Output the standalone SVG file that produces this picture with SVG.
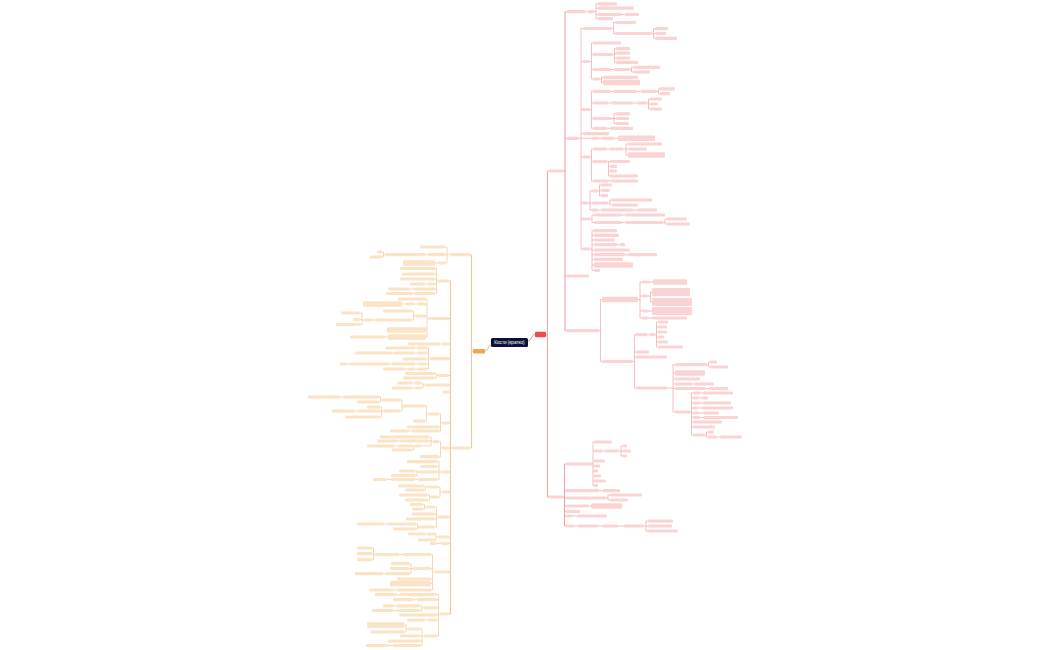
<svg xmlns="http://www.w3.org/2000/svg" width="1050" height="650" viewBox="0 0 1050 650">
<style>
.rn{fill:#fbd3d3}
.ln{fill:#fbe3c6}
.rc{fill:none;stroke:#f4a3a3;stroke-width:0.7}
.lc{fill:none;stroke:#f7c48f;stroke-width:0.7}
.tk{stroke-width:1.1}
.ct{font-family:"Liberation Sans",Arial,sans-serif;font-size:4.6px;fill:#ffffff;text-anchor:middle}
</style>
<rect width="1050" height="650" fill="#ffffff"/>
<g id="connectors">
<path class="rc tk" d="M546 334.5H547.5 M547.5 171V497 M547.5 171H549 M547.5 497H548"/>
<path class="rc tk" d="M563 171H565 M565 11.7V330.7 M565 11.7H567 M565 138.3H567 M565 276H567 M565 330.7H567"/>
<path class="rc" d="M585 11.7H588 M594 11.7H596 M596 3.8V18.7 M596 3.8H598 M596 8.2H598 M596 14.5H598 M596 18.7H598 M622 14.5H625"/>
<path class="rc" d="M579 138.3H581 M581 28.5V249 M581 28.5H583 M581 61.5H583 M581 109.5H582 M581 133.7H583 M581 138.3H592 M581 157H583 M581 203H582 M581 219H582 M581 249H582"/>
<path class="rc" d="M612 28.5H613.5 M613.5 22.5V33.5 M613.5 22.5H615 M613.5 33.5H615 M652 33.5H653.5 M653.5 28.7V38.3 M653.5 28.7H655 M653.5 33.5H655 M653.5 38.3H655"/>
<path class="rc" d="M589 61.5H591.5 M591.5 43V79 M591.5 43H593 M591.5 54.5H593 M591.5 69.5H593 M591.5 79H593 M613 54.5H614.5 M614.5 48.7V62.3 M614.5 48.7H616 M614.5 53.2H616 M614.5 58H616 M614.5 62.3H616 M611 69.5H614 M630 69.5H631.5 M631.5 67.3V72 M631.5 67.3H633 M631.5 72H633 M600 79H601.5 M601.5 77.3V82.5 M601.5 77.3H603 M601.5 82.5H603"/>
<path class="rc" d="M590 109.5H591.5 M591.5 91.3V128.3 M591.5 91.3H593 M591.5 103H593 M591.5 118.5H593 M591.5 128.3H593 M610 91.3H614 M637 91.3H641 M657 91.3H658.5 M658.5 88.8V93.7 M658.5 88.8H660 M658.5 93.7H660 M608 103H611 M633 103H637 M647 103H648.5 M648.5 99V109 M648.5 99H650 M648.5 104H650 M648.5 109H650 M612 118.5H614 M614 113.8V123.5 M614 113.8H616 M614 118.5H616 M614 123.5H616 M607 128.3H610"/>
<path class="rc" d="M598 138.3H602 M614 138.3H618"/>
<path class="rc" d="M590 157H591.5 M591.5 149V181 M591.5 149H593 M591.5 161.5H593 M591.5 181H593 M607 149H610 M623 149H626 M626 144V155 M626 144H628 M626 149H628 M626 155H628 M607 161.5H608.5 M608.5 161.5V176 M608.5 161.5H610 M608.5 166.3H610 M608.5 171H610 M608.5 176H610 M609 181H611"/>
<path class="rc" d="M588 203H590 M590 191V210 M590 191H592 M590 203H592 M590 210H592 M598 191H599.5 M599.5 185V195.7 M599.5 185H601 M599.5 190.5H601 M599.5 195.7H601 M608 203H610 M610 200V205 M610 200H612 M610 205H612 M598 210H601 M633 210H637"/>
<path class="rc" d="M590 219H592 M592 215V222.5 M592 215H594 M592 222.5H594 M622 215H625 M622 222.5H625 M663 222.5H665 M665 219V224 M665 219H667 M665 224H667"/>
<path class="rc" d="M590 249H592 M592 230.7V270.5 M592 230.7H594 M592 235.3H594 M592 240H594 M592 244.7H594 M592 250H594 M592 254.7H594 M592 259.3H594 M592 265H594 M592 270.5H594 M617 244.7H620 M625 254.7H628"/>
<path class="rc" d="M599 330.7H600.5 M600.5 299.5V361.5 M600.5 299.5H602 M600.5 361.5H602"/>
<path class="rc" d="M638 299.5H640 M640 282V318 M640 282H642 M640 296H642 M640 311H642 M640 318H642 M650 282H653 M648 296H650.5 M650.5 292V302 M650.5 292H652 M650.5 302H652 M648 311H652 M648 318H652"/>
<path class="rc" d="M633 361.5H634.5 M634.5 334.7V388 M634.5 334.7H636 M634.5 352H636 M634.5 357H636 M634.5 388H636 M647 334.7H650 M655 334.7H656.5 M656.5 322V347 M656.5 322H658 M656.5 327H658 M656.5 332H658 M656.5 337H658 M656.5 342H658 M656.5 347H658"/>
<path class="rc" d="M667 388H673 M673 364.7V412 M673 364.7H675 M673 373H675 M673 379H675 M673 384H675 M673 388.5H675 M673 412H675 M707 364.7H708.5 M708.5 362V367 M708.5 362H710 M708.5 367H710 M692 384H695 M705 388.5H709"/>
<path class="rc" d="M690 412H691.5 M691.5 393V435 M691.5 393H693 M691.5 398H693 M691.5 403H693 M691.5 408H693 M691.5 413H693 M691.5 417.5H693 M691.5 422H693 M691.5 427H693 M691.5 435H693 M700 393H703 M698 398H702 M700 403H703 M698 408H702 M699 413H703 M700 417.5H703 M705 435H706.5 M706.5 432V437 M706.5 432H708 M706.5 437H708 M717 437H720"/>
<path class="rc tk" d="M563 497H564.5 M564.5 464V526 M564.5 464H566 M564.5 490.7H566 M564.5 498H566 M564.5 506H566 M564.5 511.5H566 M564.5 516H566 M564.5 526H566"/>
<path class="rc" d="M592 464H593 M593 442V485.5 M593 442H594 M593 451H594 M593 461H594 M593 466H594 M593 471H594 M593 476H594 M593 481H594 M593 485.5H594 M602 451H605 M618 451H621 M621 446V456 M621 446H623 M621 451H623 M621 456H623"/>
<path class="rc" d="M599 490.7H603 M606 498H608 M608 495V500 M608 495H610 M608 500H610 M589 506H591 M573 516H577 M574 526H578 M598 526H603 M618 526H624 M644 526H646 M646 521V531 M646 521H648 M646 526H648 M646 531H648"/>
<path class="lc tk" d="M473 351H471.5 M471.5 254.7V448 M471.5 254.7H470 M471.5 448H470"/>
<path class="lc" d="M450 254.7H447 M447 247V263 M447 247H445 M447 254.7H445 M447 263H445 M428 254.7H425 M385 254.7H383.5 M383.5 252V257 M383.5 252H382 M383.5 257H382 M438 263H435"/>
<path class="lc tk" d="M452 448H450.5 M450.5 281V614 M450.5 281H449 M450.5 318.5H449 M450.5 344H449 M450.5 358.7H449 M450.5 375.5H449 M450.5 385H449 M450.5 392H449 M450.5 423H449 M450.5 448H449 M450.5 472H449 M450.5 492H449 M450.5 517H449 M450.5 537H449 M450.5 543.5H449 M450.5 572H449 M450.5 614H449"/>
<path class="lc" d="M438 281H436.5 M436.5 268.5V293.5 M436.5 268.5H435 M436.5 274H435 M436.5 279H435 M436.5 284H435 M436.5 289H435 M436.5 293.5H435 M428 284H425 M413 289H410 M415 293.5H412"/>
<path class="lc" d="M428 318.5H427 M427 299V337 M427 299H426 M427 304H426 M427 316H426 M427 330H426 M427 337H426 M418 304H414 M406 304H402 M415 316H413.5 M413.5 311V320 M413.5 311H412 M413.5 320H412 M375 320H372 M364 320H362 M362 313V324.5 M362 313H360 M362 319.5H360 M362 324.5H360 M388 337H385"/>
<path class="lc" d="M442 344H440"/>
<path class="lc" d="M430 358.7H428.5 M428.5 348V369 M428.5 348H427 M428.5 353H427 M428.5 359H427 M428.5 364H427 M428.5 369H427 M417 348H415 M417 353H415 M394 353H392 M418 364H415 M392 364H389 M350 364H347 M418 369H415 M408 369H405"/>
<path class="lc" d="M438 375.5H436.5 M436.5 373.5V378 M436.5 373.5H435 M436.5 378H435"/>
<path class="lc" d="M425 385H423 M423 383V388 M423 383H421 M423 388H421 M415 383H412 M415 388H412"/>
<path class="lc" d="M442 423H440.5 M440.5 414V431 M440.5 414H439 M440.5 427H439 M440.5 431H439 M412 431H409 M428 414H426.5 M426.5 406V421 M426.5 406H425 M426.5 421H425 M403 406H402 M402 400V411 M402 400H400.5 M402 411H400.5 M382 400H380.5 M380.5 397V402 M380.5 397H379 M380.5 402H379 M343 397H340 M383 411H381.5 M381.5 407V417 M381.5 407H380 M381.5 411H380 M381.5 417H380 M358 411H355"/>
<path class="lc" d="M442 448H440.5 M440.5 441.7V456.7 M440.5 441.7H439 M440.5 456.7H439 M433 441.7H431 M431 437V446 M431 437H429 M431 441H429 M431 446H421 M400 441H397 M415 446H413.5 M413.5 446V450 M413.5 446H412 M413.5 450H412 M398 446H394"/>
<path class="lc" d="M441 472H439 M439 461.7V479.5 M439 461.7H437.5 M439 466.5H437.5 M439 472H437.5 M439 479.5H437.5 M418 472H417 M417 471V475.5 M417 471H415.5 M417 475.5H415.5 M418 479.5H415 M391 479.5H387"/>
<path class="lc" d="M442 492H440 M440 487V497 M440 487H438.5 M440 497H438.5 M427 487H425.5 M425.5 486V490 M425.5 486H424 M425.5 490H424 M431 497H429.5 M429.5 495V500 M429.5 495H428 M429.5 500H428"/>
<path class="lc" d="M438 517H436.5 M436.5 507V527 M436.5 507H435 M436.5 514H435 M436.5 519H435 M436.5 527H435 M426 507H424.5 M424.5 504.5V509 M424.5 504.5H423 M424.5 509H423 M418 527H417.5 M417.5 524V529 M417.5 524H416 M417.5 529H416 M388 524H384"/>
<path class="lc" d="M438 537H436 M436 534V540 M436 534H435 M436 540H435 M427 534H425"/>
<path class="lc" d="M441 543.5H437"/>
<path class="lc" d="M435 572H432.5 M432.5 554.7V590 M432.5 554.7H431 M432.5 568.5H431 M432.5 579H431 M432.5 583.5H431 M432.5 590H431 M403 554.7H399 M375 554.7H373.5 M373.5 548V559.7 M373.5 548H372 M373.5 553.7H372 M373.5 559.7H372 M413 568.5H411 M411 563.7V573.7 M411 563.7H409.5 M411 568.5H409.5 M411 573.7H409.5 M386 573.7H383 M397 590H393"/>
<path class="lc" d="M440 614H438.5 M438.5 594.7V636 M438.5 594.7H437 M438.5 599.7H437 M438.5 607.8H437 M438.5 615H437 M438.5 620H437 M438.5 636H437 M400 594.7H397 M417 599.7H413 M424 607.8H422 M422 605.8V610.5 M422 605.8H420.5 M422 610.5H420.5 M397 605.8H393 M397 610.5H393 M428 620H425 M424 636H422 M422 629V645.5 M422 629H420.5 M422 636H420.5 M422 641H420.5 M422 645.5H420.5 M408 629H406 M406 625V632 M406 625H404.5 M406 632H404.5 M393 645.5H389"/>
<path fill="none" stroke="#f28a8a" stroke-width="1" d="M528 341C531.5 341 531.5 334.5 535 334.5"/>
<path fill="none" stroke="#f5b36f" stroke-width="1" d="M491 345C488 345 488.5 351 485 351"/>
</g>
<g id="nodes">
<g id="center"><rect x="491" y="338" width="37" height="9" rx="1.5" fill="#0c1236"/><text class="ct" x="509.5" y="344.2">Кости (кратко)</text></g>
<g id="root-right"><rect x="535" y="331.8" width="11" height="5.4" rx="1" fill="#f04a4a"/></g>
<g id="root-left"><rect x="473" y="349" width="12" height="4.4" rx="1" fill="#f6a24e"/></g>
<g id="r1"><rect class="rn" x="549" y="169.4" width="14" height="3.2" rx="1"/></g>
<g id="r2"><rect class="rn" x="548" y="495.4" width="15" height="3.2" rx="1"/></g>
<g id="r3"><rect class="rn" x="567" y="10.1" width="18" height="3.2" rx="1"/></g>
<g id="r4"><rect class="rn" x="588" y="10.1" width="6" height="3.2" rx="1"/></g>
<g id="r5"><rect class="rn" x="598" y="2.2" width="19" height="3.2" rx="1"/></g>
<g id="r6"><rect class="rn" x="598" y="6.6" width="36" height="3.2" rx="1"/></g>
<g id="r7"><rect class="rn" x="598" y="12.9" width="24" height="3.2" rx="1"/></g>
<g id="r8"><rect class="rn" x="625" y="12.9" width="14" height="3.2" rx="1"/></g>
<g id="r9"><rect class="rn" x="598" y="17.1" width="15" height="3.2" rx="1"/></g>
<g id="r10"><rect class="rn" x="567" y="136.7" width="12" height="3.2" rx="1"/></g>
<g id="r11"><rect class="rn" x="567" y="274.4" width="22" height="3.2" rx="1"/></g>
<g id="r12"><rect class="rn" x="567" y="329.1" width="32" height="3.2" rx="1"/></g>
<g id="r13"><rect class="rn" x="583" y="26.9" width="29" height="3.2" rx="1"/></g>
<g id="r14"><rect class="rn" x="615" y="20.9" width="21" height="3.2" rx="1"/></g>
<g id="r15"><rect class="rn" x="615" y="31.9" width="37" height="3.2" rx="1"/></g>
<g id="r16"><rect class="rn" x="655" y="27.1" width="13" height="3.2" rx="1"/></g>
<g id="r17"><rect class="rn" x="655" y="31.9" width="11" height="3.2" rx="1"/></g>
<g id="r18"><rect class="rn" x="655" y="36.7" width="22" height="3.2" rx="1"/></g>
<g id="r19"><rect class="rn" x="583" y="59.9" width="6" height="3.2" rx="1"/></g>
<g id="r20"><rect class="rn" x="593" y="41.4" width="28" height="3.2" rx="1"/></g>
<g id="r21"><rect class="rn" x="593" y="52.9" width="20" height="3.2" rx="1"/></g>
<g id="r22"><rect class="rn" x="616" y="47.1" width="14" height="3.2" rx="1"/></g>
<g id="r23"><rect class="rn" x="616" y="51.6" width="14" height="3.2" rx="1"/></g>
<g id="r24"><rect class="rn" x="616" y="56.4" width="14" height="3.2" rx="1"/></g>
<g id="r25"><rect class="rn" x="616" y="60.7" width="22" height="3.2" rx="1"/></g>
<g id="r26"><rect class="rn" x="593" y="67.9" width="18" height="3.2" rx="1"/></g>
<g id="r27"><rect class="rn" x="614" y="67.9" width="16" height="3.2" rx="1"/></g>
<g id="r28"><rect class="rn" x="633" y="65.7" width="27" height="3.2" rx="1"/></g>
<g id="r29"><rect class="rn" x="633" y="70.4" width="17" height="3.2" rx="1"/></g>
<g id="r30"><rect class="rn" x="593" y="77.4" width="7" height="3.2" rx="1"/></g>
<g id="r31"><rect class="rn" x="603" y="75.7" width="35" height="3.2" rx="1"/></g>
<g id="r32"><rect class="rn" x="603" y="79.7" width="37" height="5.6" rx="1"/></g>
<g id="r33"><rect class="rn" x="582" y="107.9" width="8" height="3.2" rx="1"/></g>
<g id="r34"><rect class="rn" x="593" y="89.7" width="17" height="3.2" rx="1"/></g>
<g id="r35"><rect class="rn" x="614" y="89.7" width="23" height="3.2" rx="1"/></g>
<g id="r36"><rect class="rn" x="641" y="89.7" width="16" height="3.2" rx="1"/></g>
<g id="r37"><rect class="rn" x="660" y="87.2" width="15" height="3.2" rx="1"/></g>
<g id="r38"><rect class="rn" x="660" y="92.1" width="10" height="3.2" rx="1"/></g>
<g id="r39"><rect class="rn" x="593" y="101.4" width="15" height="3.2" rx="1"/></g>
<g id="r40"><rect class="rn" x="611" y="101.4" width="22" height="3.2" rx="1"/></g>
<g id="r41"><rect class="rn" x="637" y="101.4" width="10" height="3.2" rx="1"/></g>
<g id="r42"><rect class="rn" x="650" y="97.4" width="12" height="3.2" rx="1"/></g>
<g id="r43"><rect class="rn" x="650" y="102.4" width="8" height="3.2" rx="1"/></g>
<g id="r44"><rect class="rn" x="650" y="107.4" width="12" height="3.2" rx="1"/></g>
<g id="r45"><rect class="rn" x="593" y="116.9" width="19" height="3.2" rx="1"/></g>
<g id="r46"><rect class="rn" x="616" y="112.2" width="14" height="3.2" rx="1"/></g>
<g id="r47"><rect class="rn" x="616" y="116.9" width="13" height="3.2" rx="1"/></g>
<g id="r48"><rect class="rn" x="616" y="121.9" width="13" height="3.2" rx="1"/></g>
<g id="r49"><rect class="rn" x="593" y="126.7" width="14" height="3.2" rx="1"/></g>
<g id="r50"><rect class="rn" x="610" y="126.7" width="23" height="3.2" rx="1"/></g>
<g id="r51"><rect class="rn" x="583" y="132.1" width="26" height="3.2" rx="1"/></g>
<g id="r52"><rect class="rn" x="592" y="136.7" width="6" height="3.2" rx="1"/></g>
<g id="r53"><rect class="rn" x="602" y="136.7" width="12" height="3.2" rx="1"/></g>
<g id="r54"><rect class="rn" x="618" y="135.5" width="37" height="5.6" rx="1"/></g>
<g id="r55"><rect class="rn" x="583" y="155.4" width="7" height="3.2" rx="1"/></g>
<g id="r56"><rect class="rn" x="593" y="147.4" width="14" height="3.2" rx="1"/></g>
<g id="r57"><rect class="rn" x="610" y="147.4" width="13" height="3.2" rx="1"/></g>
<g id="r58"><rect class="rn" x="628" y="142.4" width="34" height="3.2" rx="1"/></g>
<g id="r59"><rect class="rn" x="628" y="147.4" width="19" height="3.2" rx="1"/></g>
<g id="r60"><rect class="rn" x="628" y="152.2" width="37" height="5.6" rx="1"/></g>
<g id="r61"><rect class="rn" x="593" y="159.9" width="14" height="3.2" rx="1"/></g>
<g id="r62"><rect class="rn" x="610" y="159.9" width="20" height="3.2" rx="1"/></g>
<g id="r63"><rect class="rn" x="610" y="164.7" width="7" height="3.2" rx="1"/></g>
<g id="r64"><rect class="rn" x="610" y="169.4" width="7" height="3.2" rx="1"/></g>
<g id="r65"><rect class="rn" x="610" y="174.4" width="28" height="3.2" rx="1"/></g>
<g id="r66"><rect class="rn" x="593" y="179.4" width="16" height="3.2" rx="1"/></g>
<g id="r67"><rect class="rn" x="611" y="179.4" width="27" height="3.2" rx="1"/></g>
<g id="r68"><rect class="rn" x="582" y="201.4" width="6" height="3.2" rx="1"/></g>
<g id="r69"><rect class="rn" x="592" y="189.4" width="6" height="3.2" rx="1"/></g>
<g id="r70"><rect class="rn" x="601" y="183.4" width="11" height="3.2" rx="1"/></g>
<g id="r71"><rect class="rn" x="601" y="188.9" width="9" height="3.2" rx="1"/></g>
<g id="r72"><rect class="rn" x="601" y="194.1" width="7" height="3.2" rx="1"/></g>
<g id="r73"><rect class="rn" x="592" y="201.4" width="16" height="3.2" rx="1"/></g>
<g id="r74"><rect class="rn" x="612" y="198.4" width="40" height="3.2" rx="1"/></g>
<g id="r75"><rect class="rn" x="612" y="203.4" width="26" height="3.2" rx="1"/></g>
<g id="r76"><rect class="rn" x="592" y="208.4" width="6" height="3.2" rx="1"/></g>
<g id="r77"><rect class="rn" x="601" y="208.4" width="32" height="3.2" rx="1"/></g>
<g id="r78"><rect class="rn" x="637" y="208.4" width="20" height="3.2" rx="1"/></g>
<g id="r79"><rect class="rn" x="582" y="217.4" width="8" height="3.2" rx="1"/></g>
<g id="r80"><rect class="rn" x="594" y="213.4" width="28" height="3.2" rx="1"/></g>
<g id="r81"><rect class="rn" x="625" y="213.4" width="40" height="3.2" rx="1"/></g>
<g id="r82"><rect class="rn" x="594" y="220.9" width="28" height="3.2" rx="1"/></g>
<g id="r83"><rect class="rn" x="625" y="220.9" width="38" height="3.2" rx="1"/></g>
<g id="r84"><rect class="rn" x="667" y="217.4" width="20" height="3.2" rx="1"/></g>
<g id="r85"><rect class="rn" x="667" y="222.4" width="23" height="3.2" rx="1"/></g>
<g id="r86"><rect class="rn" x="582" y="247.4" width="8" height="3.2" rx="1"/></g>
<g id="r87"><rect class="rn" x="594" y="229.1" width="23" height="3.2" rx="1"/></g>
<g id="r88"><rect class="rn" x="594" y="233.7" width="25" height="3.2" rx="1"/></g>
<g id="r89"><rect class="rn" x="594" y="238.4" width="21" height="3.2" rx="1"/></g>
<g id="r90"><rect class="rn" x="594" y="243.1" width="23" height="3.2" rx="1"/></g>
<g id="r91"><rect class="rn" x="620" y="243.1" width="5" height="3.2" rx="1"/></g>
<g id="r92"><rect class="rn" x="594" y="248.4" width="36" height="3.2" rx="1"/></g>
<g id="r93"><rect class="rn" x="594" y="253.1" width="31" height="3.2" rx="1"/></g>
<g id="r94"><rect class="rn" x="628" y="253.1" width="29" height="3.2" rx="1"/></g>
<g id="r95"><rect class="rn" x="594" y="257.7" width="29" height="3.2" rx="1"/></g>
<g id="r96"><rect class="rn" x="594" y="262.2" width="39" height="5.6" rx="1"/></g>
<g id="r97"><rect class="rn" x="594" y="268.9" width="6" height="3.2" rx="1"/></g>
<g id="r98"><rect class="rn" x="602" y="296.7" width="36" height="5.6" rx="1"/></g>
<g id="r99"><rect class="rn" x="642" y="280.4" width="8" height="3.2" rx="1"/></g>
<g id="r100"><rect class="rn" x="653" y="279.2" width="34" height="5.6" rx="1"/></g>
<g id="r101"><rect class="rn" x="642" y="294.4" width="6" height="3.2" rx="1"/></g>
<g id="r102"><rect class="rn" x="652" y="288" width="38" height="8" rx="1"/></g>
<g id="r103"><rect class="rn" x="652" y="298" width="40" height="8" rx="1"/></g>
<g id="r104"><rect class="rn" x="642" y="309.4" width="6" height="3.2" rx="1"/></g>
<g id="r105"><rect class="rn" x="652" y="307" width="40" height="8" rx="1"/></g>
<g id="r106"><rect class="rn" x="642" y="316.4" width="6" height="3.2" rx="1"/></g>
<g id="r107"><rect class="rn" x="652" y="316.4" width="35" height="3.2" rx="1"/></g>
<g id="r108"><rect class="rn" x="602" y="359.9" width="31" height="3.2" rx="1"/></g>
<g id="r109"><rect class="rn" x="636" y="333.1" width="11" height="3.2" rx="1"/></g>
<g id="r110"><rect class="rn" x="650" y="333.1" width="5" height="3.2" rx="1"/></g>
<g id="r111"><rect class="rn" x="658" y="320.4" width="10" height="3.2" rx="1"/></g>
<g id="r112"><rect class="rn" x="658" y="325.4" width="9" height="3.2" rx="1"/></g>
<g id="r113"><rect class="rn" x="658" y="330.4" width="9" height="3.2" rx="1"/></g>
<g id="r114"><rect class="rn" x="658" y="335.4" width="6" height="3.2" rx="1"/></g>
<g id="r115"><rect class="rn" x="658" y="340.4" width="10" height="3.2" rx="1"/></g>
<g id="r116"><rect class="rn" x="658" y="345.4" width="25" height="3.2" rx="1"/></g>
<g id="r117"><rect class="rn" x="636" y="350.4" width="13" height="3.2" rx="1"/></g>
<g id="r118"><rect class="rn" x="636" y="355.4" width="31" height="3.2" rx="1"/></g>
<g id="r119"><rect class="rn" x="636" y="386.4" width="31" height="3.2" rx="1"/></g>
<g id="r120"><rect class="rn" x="675" y="363.1" width="32" height="3.2" rx="1"/></g>
<g id="r121"><rect class="rn" x="710" y="360.4" width="7" height="3.2" rx="1"/></g>
<g id="r122"><rect class="rn" x="710" y="365.4" width="18" height="3.2" rx="1"/></g>
<g id="r123"><rect class="rn" x="675" y="370.2" width="30" height="5.6" rx="1"/></g>
<g id="r124"><rect class="rn" x="675" y="377.4" width="25" height="3.2" rx="1"/></g>
<g id="r125"><rect class="rn" x="675" y="382.4" width="17" height="3.2" rx="1"/></g>
<g id="r126"><rect class="rn" x="695" y="382.4" width="19" height="3.2" rx="1"/></g>
<g id="r127"><rect class="rn" x="675" y="386.9" width="30" height="3.2" rx="1"/></g>
<g id="r128"><rect class="rn" x="709" y="386.9" width="19" height="3.2" rx="1"/></g>
<g id="r129"><rect class="rn" x="675" y="410.4" width="15" height="3.2" rx="1"/></g>
<g id="r130"><rect class="rn" x="693" y="391.4" width="7" height="3.2" rx="1"/></g>
<g id="r131"><rect class="rn" x="703" y="391.4" width="30" height="3.2" rx="1"/></g>
<g id="r132"><rect class="rn" x="693" y="396.4" width="5" height="3.2" rx="1"/></g>
<g id="r133"><rect class="rn" x="702" y="396.4" width="6" height="3.2" rx="1"/></g>
<g id="r134"><rect class="rn" x="693" y="401.4" width="7" height="3.2" rx="1"/></g>
<g id="r135"><rect class="rn" x="703" y="401.4" width="28" height="3.2" rx="1"/></g>
<g id="r136"><rect class="rn" x="693" y="406.4" width="5" height="3.2" rx="1"/></g>
<g id="r137"><rect class="rn" x="702" y="406.4" width="31" height="3.2" rx="1"/></g>
<g id="r138"><rect class="rn" x="693" y="411.4" width="6" height="3.2" rx="1"/></g>
<g id="r139"><rect class="rn" x="703" y="411.4" width="16" height="3.2" rx="1"/></g>
<g id="r140"><rect class="rn" x="693" y="415.9" width="7" height="3.2" rx="1"/></g>
<g id="r141"><rect class="rn" x="703" y="415.9" width="35" height="3.2" rx="1"/></g>
<g id="r142"><rect class="rn" x="693" y="420.4" width="29" height="3.2" rx="1"/></g>
<g id="r143"><rect class="rn" x="693" y="425.4" width="22" height="3.2" rx="1"/></g>
<g id="r144"><rect class="rn" x="693" y="433.4" width="12" height="3.2" rx="1"/></g>
<g id="r145"><rect class="rn" x="708" y="430.4" width="6" height="3.2" rx="1"/></g>
<g id="r146"><rect class="rn" x="708" y="435.4" width="9" height="3.2" rx="1"/></g>
<g id="r147"><rect class="rn" x="720" y="435.4" width="22" height="3.2" rx="1"/></g>
<g id="r148"><rect class="rn" x="566" y="462.4" width="26" height="3.2" rx="1"/></g>
<g id="r149"><rect class="rn" x="594" y="440.4" width="18" height="3.2" rx="1"/></g>
<g id="r150"><rect class="rn" x="594" y="449.4" width="8" height="3.2" rx="1"/></g>
<g id="r151"><rect class="rn" x="605" y="449.4" width="13" height="3.2" rx="1"/></g>
<g id="r152"><rect class="rn" x="623" y="444.4" width="4" height="3.2" rx="1"/></g>
<g id="r153"><rect class="rn" x="623" y="449.4" width="8" height="3.2" rx="1"/></g>
<g id="r154"><rect class="rn" x="623" y="454.4" width="4" height="3.2" rx="1"/></g>
<g id="r155"><rect class="rn" x="594" y="459.4" width="11" height="3.2" rx="1"/></g>
<g id="r156"><rect class="rn" x="594" y="464.4" width="6" height="3.2" rx="1"/></g>
<g id="r157"><rect class="rn" x="594" y="469.4" width="4" height="3.2" rx="1"/></g>
<g id="r158"><rect class="rn" x="594" y="474.4" width="7" height="3.2" rx="1"/></g>
<g id="r159"><rect class="rn" x="594" y="479.4" width="12" height="3.2" rx="1"/></g>
<g id="r160"><rect class="rn" x="594" y="483.9" width="4" height="3.2" rx="1"/></g>
<g id="r161"><rect class="rn" x="566" y="489.1" width="33" height="3.2" rx="1"/></g>
<g id="r162"><rect class="rn" x="603" y="489.1" width="17" height="3.2" rx="1"/></g>
<g id="r163"><rect class="rn" x="566" y="496.4" width="40" height="3.2" rx="1"/></g>
<g id="r164"><rect class="rn" x="610" y="493.4" width="32" height="3.2" rx="1"/></g>
<g id="r165"><rect class="rn" x="610" y="498.4" width="18" height="3.2" rx="1"/></g>
<g id="r166"><rect class="rn" x="566" y="504.4" width="23" height="3.2" rx="1"/></g>
<g id="r167"><rect class="rn" x="591" y="503.2" width="31" height="5.6" rx="1"/></g>
<g id="r168"><rect class="rn" x="566" y="509.9" width="14" height="3.2" rx="1"/></g>
<g id="r169"><rect class="rn" x="566" y="514.4" width="7" height="3.2" rx="1"/></g>
<g id="r170"><rect class="rn" x="577" y="514.4" width="30" height="3.2" rx="1"/></g>
<g id="r171"><rect class="rn" x="566" y="524.4" width="8" height="3.2" rx="1"/></g>
<g id="r172"><rect class="rn" x="578" y="524.4" width="20" height="3.2" rx="1"/></g>
<g id="r173"><rect class="rn" x="603" y="524.4" width="15" height="3.2" rx="1"/></g>
<g id="r174"><rect class="rn" x="624" y="524.4" width="20" height="3.2" rx="1"/></g>
<g id="r175"><rect class="rn" x="648" y="519.4" width="25" height="3.2" rx="1"/></g>
<g id="r176"><rect class="rn" x="648" y="524.4" width="24" height="3.2" rx="1"/></g>
<g id="r177"><rect class="rn" x="648" y="529.4" width="30" height="3.2" rx="1"/></g>
<g id="l1"><rect class="ln" x="450" y="253.1" width="20" height="3.2" rx="1"/></g>
<g id="l2"><rect class="ln" x="420" y="245.4" width="25" height="3.2" rx="1"/></g>
<g id="l3"><rect class="ln" x="428" y="253.1" width="17" height="3.2" rx="1"/></g>
<g id="l4"><rect class="ln" x="385" y="253.1" width="40" height="3.2" rx="1"/></g>
<g id="l5"><rect class="ln" x="377" y="250.4" width="5" height="3.2" rx="1"/></g>
<g id="l6"><rect class="ln" x="370" y="255.4" width="12" height="3.2" rx="1"/></g>
<g id="l7"><rect class="ln" x="438" y="261.4" width="7" height="3.2" rx="1"/></g>
<g id="l8"><rect class="ln" x="403" y="260.2" width="32" height="5.6" rx="1"/></g>
<g id="l9"><rect class="ln" x="452" y="446.4" width="18" height="3.2" rx="1"/></g>
<g id="l10"><rect class="ln" x="438" y="279.4" width="11" height="3.2" rx="1"/></g>
<g id="l11"><rect class="ln" x="400" y="266.9" width="35" height="3.2" rx="1"/></g>
<g id="l12"><rect class="ln" x="402" y="272.4" width="33" height="3.2" rx="1"/></g>
<g id="l13"><rect class="ln" x="400" y="277.4" width="35" height="3.2" rx="1"/></g>
<g id="l14"><rect class="ln" x="428" y="282.4" width="7" height="3.2" rx="1"/></g>
<g id="l15"><rect class="ln" x="410" y="282.4" width="15" height="3.2" rx="1"/></g>
<g id="l16"><rect class="ln" x="413" y="287.4" width="22" height="3.2" rx="1"/></g>
<g id="l17"><rect class="ln" x="388" y="287.4" width="22" height="3.2" rx="1"/></g>
<g id="l18"><rect class="ln" x="415" y="291.9" width="20" height="3.2" rx="1"/></g>
<g id="l19"><rect class="ln" x="386" y="291.9" width="26" height="3.2" rx="1"/></g>
<g id="l20"><rect class="ln" x="428" y="316.9" width="21" height="3.2" rx="1"/></g>
<g id="l21"><rect class="ln" x="398" y="297.4" width="28" height="3.2" rx="1"/></g>
<g id="l22"><rect class="ln" x="418" y="302.4" width="8" height="3.2" rx="1"/></g>
<g id="l23"><rect class="ln" x="406" y="302.4" width="8" height="3.2" rx="1"/></g>
<g id="l24"><rect class="ln" x="363" y="301.2" width="39" height="5.6" rx="1"/></g>
<g id="l25"><rect class="ln" x="415" y="314.4" width="11" height="3.2" rx="1"/></g>
<g id="l26"><rect class="ln" x="383" y="309.4" width="29" height="3.2" rx="1"/></g>
<g id="l27"><rect class="ln" x="375" y="318.4" width="37" height="3.2" rx="1"/></g>
<g id="l28"><rect class="ln" x="364" y="318.4" width="8" height="3.2" rx="1"/></g>
<g id="l29"><rect class="ln" x="341" y="311.4" width="19" height="3.2" rx="1"/></g>
<g id="l30"><rect class="ln" x="353" y="317.9" width="7" height="3.2" rx="1"/></g>
<g id="l31"><rect class="ln" x="336" y="322.9" width="24" height="3.2" rx="1"/></g>
<g id="l32"><rect class="ln" x="387" y="327.2" width="39" height="5.6" rx="1"/></g>
<g id="l33"><rect class="ln" x="388" y="334.2" width="38" height="5.6" rx="1"/></g>
<g id="l34"><rect class="ln" x="350" y="335.4" width="35" height="3.2" rx="1"/></g>
<g id="l35"><rect class="ln" x="442" y="342.4" width="7" height="3.2" rx="1"/></g>
<g id="l36"><rect class="ln" x="408" y="342.4" width="32" height="3.2" rx="1"/></g>
<g id="l37"><rect class="ln" x="430" y="357.1" width="19" height="3.2" rx="1"/></g>
<g id="l38"><rect class="ln" x="417" y="346.4" width="10" height="3.2" rx="1"/></g>
<g id="l39"><rect class="ln" x="386" y="346.4" width="29" height="3.2" rx="1"/></g>
<g id="l40"><rect class="ln" x="417" y="351.4" width="10" height="3.2" rx="1"/></g>
<g id="l41"><rect class="ln" x="394" y="351.4" width="21" height="3.2" rx="1"/></g>
<g id="l42"><rect class="ln" x="355" y="351.4" width="37" height="3.2" rx="1"/></g>
<g id="l43"><rect class="ln" x="403" y="357.4" width="24" height="3.2" rx="1"/></g>
<g id="l44"><rect class="ln" x="418" y="362.4" width="9" height="3.2" rx="1"/></g>
<g id="l45"><rect class="ln" x="392" y="362.4" width="23" height="3.2" rx="1"/></g>
<g id="l46"><rect class="ln" x="350" y="362.4" width="39" height="3.2" rx="1"/></g>
<g id="l47"><rect class="ln" x="340" y="362.4" width="7" height="3.2" rx="1"/></g>
<g id="l48"><rect class="ln" x="418" y="367.4" width="9" height="3.2" rx="1"/></g>
<g id="l49"><rect class="ln" x="408" y="367.4" width="7" height="3.2" rx="1"/></g>
<g id="l50"><rect class="ln" x="383" y="367.4" width="22" height="3.2" rx="1"/></g>
<g id="l51"><rect class="ln" x="438" y="373.9" width="11" height="3.2" rx="1"/></g>
<g id="l52"><rect class="ln" x="405" y="371.9" width="30" height="3.2" rx="1"/></g>
<g id="l53"><rect class="ln" x="403" y="376.4" width="32" height="3.2" rx="1"/></g>
<g id="l54"><rect class="ln" x="425" y="383.4" width="24" height="3.2" rx="1"/></g>
<g id="l55"><rect class="ln" x="415" y="381.4" width="6" height="3.2" rx="1"/></g>
<g id="l56"><rect class="ln" x="397" y="381.4" width="15" height="3.2" rx="1"/></g>
<g id="l57"><rect class="ln" x="415" y="386.4" width="6" height="3.2" rx="1"/></g>
<g id="l58"><rect class="ln" x="392" y="386.4" width="20" height="3.2" rx="1"/></g>
<g id="l59"><rect class="ln" x="442" y="390.4" width="7" height="3.2" rx="1"/></g>
<g id="l60"><rect class="ln" x="442" y="421.4" width="7" height="3.2" rx="1"/></g>
<g id="l61"><rect class="ln" x="428" y="412.4" width="11" height="3.2" rx="1"/></g>
<g id="l62"><rect class="ln" x="407" y="425.4" width="32" height="3.2" rx="1"/></g>
<g id="l63"><rect class="ln" x="412" y="429.4" width="27" height="3.2" rx="1"/></g>
<g id="l64"><rect class="ln" x="390" y="429.4" width="19" height="3.2" rx="1"/></g>
<g id="l65"><rect class="ln" x="403" y="404.4" width="22" height="3.2" rx="1"/></g>
<g id="l66"><rect class="ln" x="413" y="419.4" width="12" height="3.2" rx="1"/></g>
<g id="l67"><rect class="ln" x="382" y="398.4" width="18.5" height="3.2" rx="1"/></g>
<g id="l68"><rect class="ln" x="383" y="409.4" width="17.5" height="3.2" rx="1"/></g>
<g id="l69"><rect class="ln" x="343" y="395.4" width="36" height="3.2" rx="1"/></g>
<g id="l70"><rect class="ln" x="308" y="395.4" width="32" height="3.2" rx="1"/></g>
<g id="l71"><rect class="ln" x="357" y="400.4" width="22" height="3.2" rx="1"/></g>
<g id="l72"><rect class="ln" x="367" y="405.4" width="13" height="3.2" rx="1"/></g>
<g id="l73"><rect class="ln" x="358" y="409.4" width="22" height="3.2" rx="1"/></g>
<g id="l74"><rect class="ln" x="332" y="409.4" width="23" height="3.2" rx="1"/></g>
<g id="l75"><rect class="ln" x="345" y="415.4" width="35" height="3.2" rx="1"/></g>
<g id="l76"><rect class="ln" x="442" y="446.4" width="7" height="3.2" rx="1"/></g>
<g id="l77"><rect class="ln" x="433" y="440.1" width="6" height="3.2" rx="1"/></g>
<g id="l78"><rect class="ln" x="420" y="455.1" width="19" height="3.2" rx="1"/></g>
<g id="l79"><rect class="ln" x="380" y="435.4" width="49" height="3.2" rx="1"/></g>
<g id="l80"><rect class="ln" x="400" y="439.4" width="29" height="3.2" rx="1"/></g>
<g id="l81"><rect class="ln" x="377" y="439.4" width="20" height="3.2" rx="1"/></g>
<g id="l82"><rect class="ln" x="415" y="444.4" width="6" height="3.2" rx="1"/></g>
<g id="l83"><rect class="ln" x="398" y="444.4" width="14" height="3.2" rx="1"/></g>
<g id="l84"><rect class="ln" x="367" y="444.4" width="27" height="3.2" rx="1"/></g>
<g id="l85"><rect class="ln" x="392" y="448.4" width="20" height="3.2" rx="1"/></g>
<g id="l86"><rect class="ln" x="441" y="470.4" width="8" height="3.2" rx="1"/></g>
<g id="l87"><rect class="ln" x="407" y="460.1" width="30.5" height="3.2" rx="1"/></g>
<g id="l88"><rect class="ln" x="420" y="464.9" width="17.5" height="3.2" rx="1"/></g>
<g id="l89"><rect class="ln" x="418" y="470.4" width="19.5" height="3.2" rx="1"/></g>
<g id="l90"><rect class="ln" x="418" y="477.9" width="19.5" height="3.2" rx="1"/></g>
<g id="l91"><rect class="ln" x="399" y="469.4" width="16.5" height="3.2" rx="1"/></g>
<g id="l92"><rect class="ln" x="391" y="473.9" width="24.5" height="3.2" rx="1"/></g>
<g id="l93"><rect class="ln" x="391" y="477.9" width="24" height="3.2" rx="1"/></g>
<g id="l94"><rect class="ln" x="373" y="477.9" width="14" height="3.2" rx="1"/></g>
<g id="l95"><rect class="ln" x="442" y="490.4" width="7" height="3.2" rx="1"/></g>
<g id="l96"><rect class="ln" x="427" y="485.4" width="11.5" height="3.2" rx="1"/></g>
<g id="l97"><rect class="ln" x="431" y="495.4" width="7.5" height="3.2" rx="1"/></g>
<g id="l98"><rect class="ln" x="398" y="484.4" width="26" height="3.2" rx="1"/></g>
<g id="l99"><rect class="ln" x="405" y="488.4" width="19" height="3.2" rx="1"/></g>
<g id="l100"><rect class="ln" x="399" y="493.4" width="29" height="3.2" rx="1"/></g>
<g id="l101"><rect class="ln" x="405" y="498.4" width="23" height="3.2" rx="1"/></g>
<g id="l102"><rect class="ln" x="438" y="515.4" width="11" height="3.2" rx="1"/></g>
<g id="l103"><rect class="ln" x="426" y="505.4" width="9" height="3.2" rx="1"/></g>
<g id="l104"><rect class="ln" x="412" y="512.4" width="23" height="3.2" rx="1"/></g>
<g id="l105"><rect class="ln" x="406" y="517.4" width="29" height="3.2" rx="1"/></g>
<g id="l106"><rect class="ln" x="418" y="525.4" width="17" height="3.2" rx="1"/></g>
<g id="l107"><rect class="ln" x="410" y="502.9" width="13" height="3.2" rx="1"/></g>
<g id="l108"><rect class="ln" x="412" y="507.4" width="11" height="3.2" rx="1"/></g>
<g id="l109"><rect class="ln" x="388" y="522.4" width="28" height="3.2" rx="1"/></g>
<g id="l110"><rect class="ln" x="357" y="522.4" width="27" height="3.2" rx="1"/></g>
<g id="l111"><rect class="ln" x="393" y="527.4" width="23" height="3.2" rx="1"/></g>
<g id="l112"><rect class="ln" x="438" y="535.4" width="11" height="3.2" rx="1"/></g>
<g id="l113"><rect class="ln" x="427" y="532.4" width="8" height="3.2" rx="1"/></g>
<g id="l114"><rect class="ln" x="408" y="532.4" width="17" height="3.2" rx="1"/></g>
<g id="l115"><rect class="ln" x="418" y="538.4" width="17" height="3.2" rx="1"/></g>
<g id="l116"><rect class="ln" x="441" y="541.9" width="8" height="3.2" rx="1"/></g>
<g id="l117"><rect class="ln" x="430" y="541.9" width="7" height="3.2" rx="1"/></g>
<g id="l118"><rect class="ln" x="435" y="570.4" width="14" height="3.2" rx="1"/></g>
<g id="l119"><rect class="ln" x="403" y="553.1" width="28" height="3.2" rx="1"/></g>
<g id="l120"><rect class="ln" x="375" y="553.1" width="24" height="3.2" rx="1"/></g>
<g id="l121"><rect class="ln" x="357" y="546.4" width="15" height="3.2" rx="1"/></g>
<g id="l122"><rect class="ln" x="357" y="552.1" width="15" height="3.2" rx="1"/></g>
<g id="l123"><rect class="ln" x="357" y="558.1" width="15" height="3.2" rx="1"/></g>
<g id="l124"><rect class="ln" x="413" y="566.9" width="18" height="3.2" rx="1"/></g>
<g id="l125"><rect class="ln" x="391" y="562.1" width="18.5" height="3.2" rx="1"/></g>
<g id="l126"><rect class="ln" x="390" y="566.9" width="19.5" height="3.2" rx="1"/></g>
<g id="l127"><rect class="ln" x="386" y="572.1" width="23.5" height="3.2" rx="1"/></g>
<g id="l128"><rect class="ln" x="355" y="572.1" width="28" height="3.2" rx="1"/></g>
<g id="l129"><rect class="ln" x="397" y="577.4" width="34" height="3.2" rx="1"/></g>
<g id="l130"><rect class="ln" x="390" y="580.7" width="41" height="5.6" rx="1"/></g>
<g id="l131"><rect class="ln" x="397" y="588.4" width="34" height="3.2" rx="1"/></g>
<g id="l132"><rect class="ln" x="369" y="588.4" width="24" height="3.2" rx="1"/></g>
<g id="l133"><rect class="ln" x="440" y="612.4" width="9" height="3.2" rx="1"/></g>
<g id="l134"><rect class="ln" x="400" y="593.1" width="37" height="3.2" rx="1"/></g>
<g id="l135"><rect class="ln" x="375" y="593.1" width="22" height="3.2" rx="1"/></g>
<g id="l136"><rect class="ln" x="417" y="598.1" width="20" height="3.2" rx="1"/></g>
<g id="l137"><rect class="ln" x="393" y="598.1" width="20" height="3.2" rx="1"/></g>
<g id="l138"><rect class="ln" x="424" y="606.2" width="13" height="3.2" rx="1"/></g>
<g id="l139"><rect class="ln" x="397" y="604.2" width="23.5" height="3.2" rx="1"/></g>
<g id="l140"><rect class="ln" x="383" y="604.2" width="10" height="3.2" rx="1"/></g>
<g id="l141"><rect class="ln" x="397" y="608.9" width="23.5" height="3.2" rx="1"/></g>
<g id="l142"><rect class="ln" x="372" y="608.9" width="21" height="3.2" rx="1"/></g>
<g id="l143"><rect class="ln" x="399" y="613.4" width="38" height="3.2" rx="1"/></g>
<g id="l144"><rect class="ln" x="428" y="618.4" width="9" height="3.2" rx="1"/></g>
<g id="l145"><rect class="ln" x="407" y="618.4" width="18" height="3.2" rx="1"/></g>
<g id="l146"><rect class="ln" x="424" y="634.4" width="13" height="3.2" rx="1"/></g>
<g id="l147"><rect class="ln" x="408" y="627.4" width="12.5" height="3.2" rx="1"/></g>
<g id="l148"><rect class="ln" x="400" y="634.4" width="20.5" height="3.2" rx="1"/></g>
<g id="l149"><rect class="ln" x="388" y="639.4" width="32.5" height="3.2" rx="1"/></g>
<g id="l150"><rect class="ln" x="393" y="643.9" width="27.5" height="3.2" rx="1"/></g>
<g id="l151"><rect class="ln" x="366" y="643.9" width="23" height="3.2" rx="1"/></g>
<g id="l152"><rect class="ln" x="367" y="622.2" width="37.5" height="5.6" rx="1"/></g>
<g id="l153"><rect class="ln" x="371" y="630.4" width="33.5" height="3.2" rx="1"/></g>
</g>
</svg>
